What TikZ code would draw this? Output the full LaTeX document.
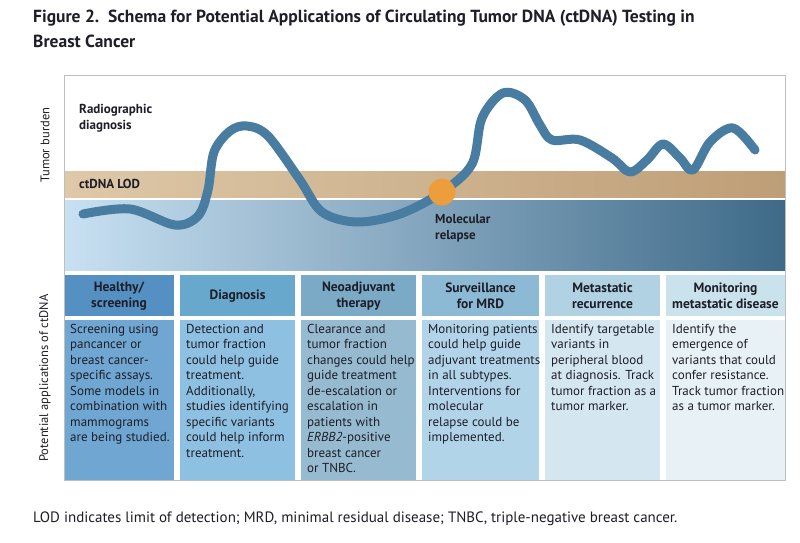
\documentclass[tikz,border=0pt]{standalone}
\usepackage{fontspec}
\setmainfont{PT Sans}
\usepackage{tikz}
\definecolor{curveBlue}{RGB}{72,124,160}
\definecolor{relapseOrange}{RGB}{236,158,60}
\definecolor{lodLight}{RGB}{222,200,168}
\definecolor{lodDark}{RGB}{190,158,118}
\definecolor{bandLight}{RGB}{200,224,242}
\definecolor{bandDark}{RGB}{62,106,136}
\definecolor{headA}{RGB}{84,144,194}  \definecolor{bodyA}{RGB}{112,166,210}
\definecolor{headB}{RGB}{104,168,204} \definecolor{bodyB}{RGB}{142,192,226}
\definecolor{headC}{RGB}{122,170,198} \definecolor{bodyC}{RGB}{150,186,208}
\definecolor{headD}{RGB}{140,186,212} \definecolor{bodyD}{RGB}{178,212,232}
\definecolor{headE}{RGB}{176,210,226} \definecolor{bodyE}{RGB}{212,230,240}
\definecolor{headF}{RGB}{202,226,236} \definecolor{bodyF}{RGB}{232,241,246}
\definecolor{inkText}{RGB}{30,30,40}

\tikzset{
  lbl/.style={font=\bfseries\fontsize{13}{16}\selectfont, text=inkText, align=left, inner sep=0pt},
  axis/.style={font=\fontsize{12.5}{14}\selectfont, text=inkText, rotate=90, inner sep=0pt},
  head/.style={font=\bfseries\fontsize{13.5}{16}\selectfont, text=inkText, align=center, inner sep=0pt},
  body/.style={font=\fontsize{13}{15.5}\selectfont, text=inkText, align=left, inner sep=0pt, anchor=north west},
}

% column: #1 name, #2 left x, #3 right x, #4 head colour, #5 body colour, #6 head, #7 body
\newcommand{\appcol}[7]{
  \fill[#4] (#2,275) rectangle (#3,316);
  \fill[#5] (#2,320) rectangle (#3,480);
  \node[head] (#1h) at ({(#2+#3)/2},296) {#6};
  \node[body] (#1b) at (#2+6,324) {#7};
}

\begin{document}
\begin{tikzpicture}[x=1pt,y=-1pt]
  \useasboundingbox (0,0) rectangle (800,543);
  \fill[white] (0,0) rectangle (800,543);

  % title
  \node[anchor=north west, inner sep=0pt, align=left, font=\bfseries\fontsize{17.5}{25}\selectfont, text=inkText]
    (title) at (33,10) {Figure 2.\ \ Schema for Potential Applications of Circulating Tumor DNA (ctDNA) Testing in\\Breast Cancer};

  % top panel
  \fill[left color=lodLight, right color=lodDark] (64,171) rectangle (785,197);
  \fill[left color=bandLight, right color=bandDark] (64,200) rectangle (785,270);

  \node[lbl, anchor=north west] (radio) at (79,104) {Radiographic\\diagnosis};
  \node[lbl, anchor=west] (lod) at (79,184) {ctDNA LOD};
  \node[lbl, anchor=north west] (relapse) at (435,214) {Molecular\\relapse};

  \draw[curveBlue, line width=9pt, line cap=round, line join=round] plot[smooth, tension=0.55] coordinates {
    (83,214) (130,209) (175,225) (198,216) (208,190) (214,152) (230,131) (247,126) (268,136)
    (300,180) (322,212) (357,222) (400,214) (442,192) (472,164) (482,118) (503,93)
    (525,100) (540,125) (552,140) (580,140) (612,158) (630,172) (647,160) (663,144)
    (680,158) (693,170) (710,142) (733,128) (755,150)};
  \node[circle, fill=relapseOrange, minimum size=27pt, inner sep=0pt] (dot) at (442,192) {};

  % applications
  \appcol{heal}{64}{174}{headA}{bodyA}{Healthy/\\screening}{Screening using\\pancancer or\\breast cancer-\\specific assays.\\Some models in\\combination with\\mammograms\\are being studied.}
  \appcol{diag}{180}{295}{headB}{bodyB}{Diagnosis}{Detection and\\tumor fraction\\could help guide\\treatment.\\Additionally,\\studies identifying\\specific variants\\could help inform\\treatment.}
  \appcol{neo}{301}{416}{headC}{bodyC}{Neoadjuvant\\therapy}{Clearance and\\tumor fraction\\changes could help\\guide treatment\\de-escalation or\\escalation in\\patients with\\\textit{ERBB2}-positive\\breast cancer\\or TNBC.}
  \appcol{surv}{422}{539}{headD}{bodyD}{Surveillance\\for MRD}{Monitoring patients\\could help guide\\adjuvant treatments\\in all subtypes.\\Interventions for\\molecular\\relapse could be\\implemented.}
  \appcol{meta}{545}{660}{headE}{bodyE}{Metastatic\\recurrence}{Identify targetable\\variants in\\peripheral blood\\at diagnosis. Track\\tumor fraction as a\\tumor marker.}
  \appcol{mon}{666}{785}{headF}{bodyF}{Monitoring\\metastatic disease}{Identify the\\emergence of\\variants that could\\confer resistance.\\Track tumor fraction\\as a tumor marker.}

  \draw[black!25, line width=0.8pt] (64,75) rectangle (785,480);

  % axis labels
  \node[axis] (burden) at (45,145) {Tumor burden};
  \node[axis] (apps) at (45,378) {Potential applications of ctDNA};

  % caption
  \node[anchor=west, inner sep=0pt, font=\fontsize{15}{17}\selectfont, text=inkText] (caption) at (33,519)
    {LOD indicates limit of detection; MRD, minimal residual disease; TNBC, triple-negative breast cancer.};
\end{tikzpicture}
\end{document}
